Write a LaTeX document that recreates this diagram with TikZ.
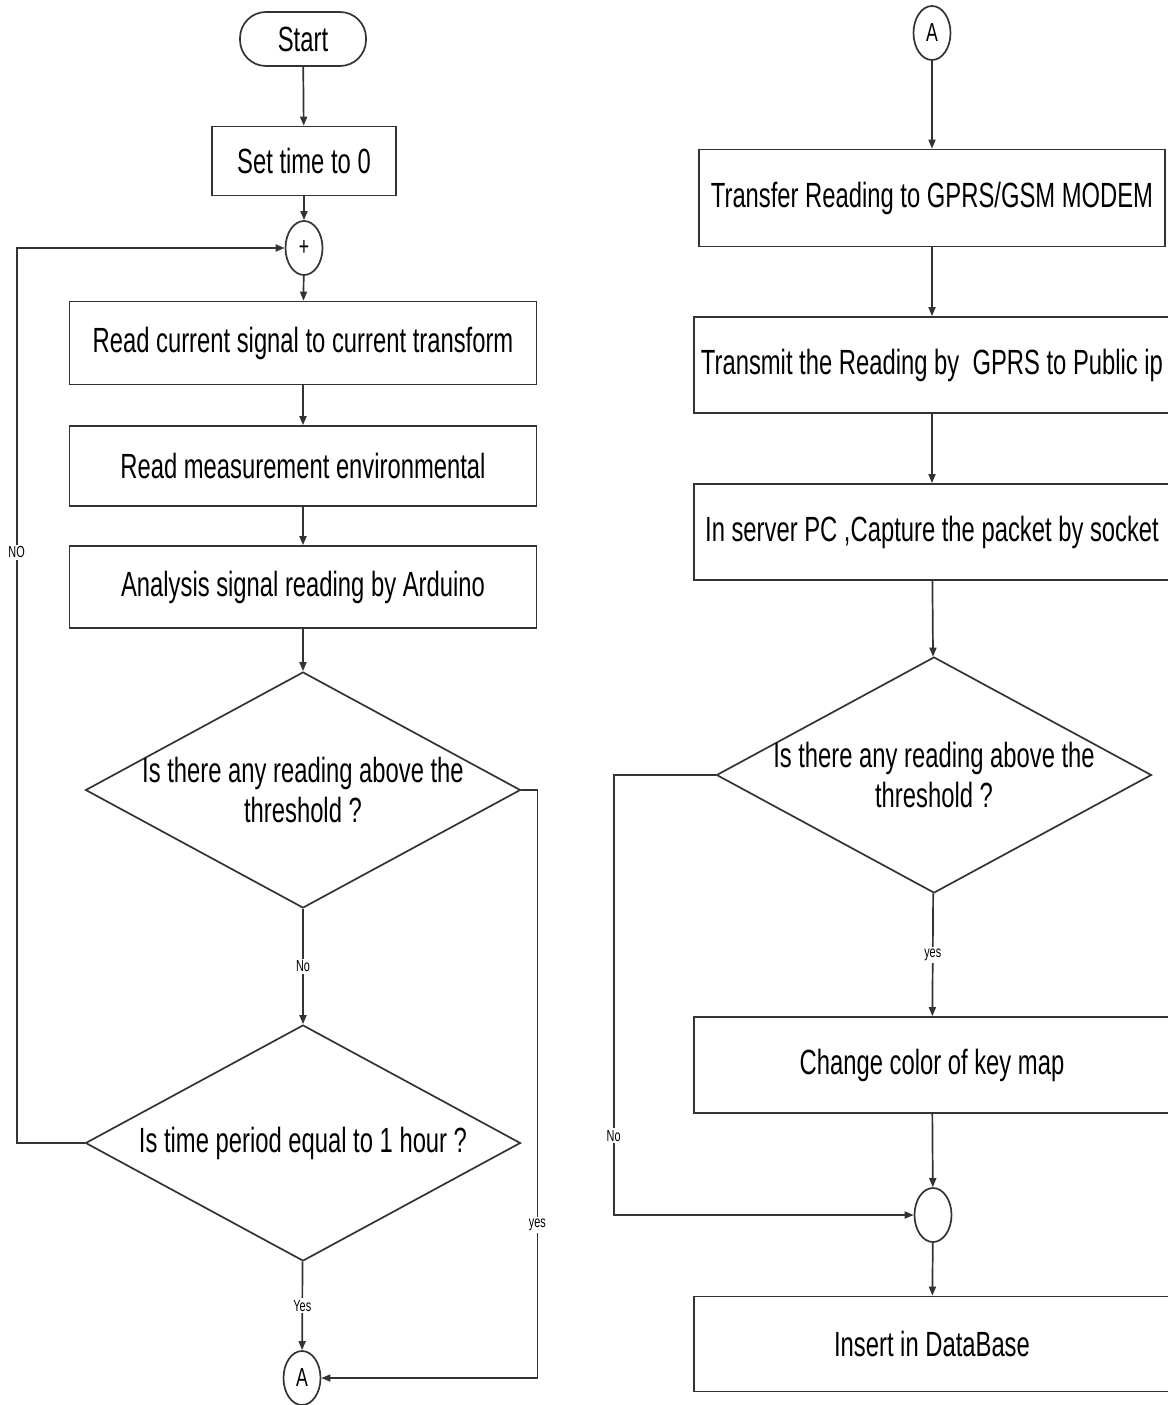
\documentclass[tikz,border=0pt]{standalone}
\usepackage{fontspec}
\setmainfont{Liberation Sans}[FakeStretch=0.68]
\usetikzlibrary{shapes.geometric,arrows.meta}

\tikzset{
  every node/.style={font=\fontsize{35}{40}\selectfont},
  flow/.style={draw=black!80, line width=1.7pt},
  arrow/.style={flow, -{Triangle[length=9pt,width=7pt]}},
  procbox/.style={flow, rectangle, inner sep=0pt, minimum height=82pt},
  startbox/.style={flow, rectangle, rounded corners=26pt, minimum width=126pt, minimum height=54pt, inner sep=0pt},
  decision/.style={flow, diamond, inner sep=0pt, minimum width=435pt, minimum height=236pt},
  joint/.style={flow, ellipse, inner sep=0pt, minimum width=37pt, minimum height=54pt, font=\fontsize{26}{26}\selectfont},
  lbl/.style={fill=white, inner sep=2pt, font=\fontsize{16}{16}\selectfont},
}

\begin{document}
\begin{tikzpicture}[x=1pt, y=-1pt]
\useasboundingbox (0,0) rectangle (1167,1405);

% left column: measurement loop
\node[startbox] (start) at (303,39) {Start};
\node[procbox, minimum width=184pt, minimum height=69pt] (settime) at (304,161) {Set time to 0};
\node[joint] (plus) at (304,248) {+};
\node[procbox, minimum width=467pt, minimum height=83pt] (readcur) at (303,343) {Read current signal to current transform};
\node[procbox, minimum width=467pt, minimum height=80pt] (readenv) at (303,466) {Read measurement environmental};
\node[procbox, minimum width=467pt, minimum height=82pt] (analysis) at (303,587) {Analysis signal reading by Arduino};
\node[decision, label={[align=center]center:Is there any reading above the\\threshold ?}] (thr1) at (303,790) {};
\node[decision, label={center:Is time period equal to 1 hour ?}] (hour) at (303,1143) {};
\node[joint] (connA) at (302,1378) {A};

\draw[arrow] (start) -- (settime);
\draw[arrow] (settime) -- (plus);
\draw[arrow] (plus) -- (readcur);
\draw[arrow] (readcur) -- (readenv);
\draw[arrow] (readenv) -- (analysis);
\draw[arrow] (analysis) -- (thr1);
\draw[arrow] (thr1) -- node[lbl]{No} (hour);
\draw[arrow] (hour) -- node[lbl]{Yes} (connA);
\draw[arrow] (hour.west) -- ++(-68,0) |- node[lbl, pos=0.33]{NO} (plus.west);
\draw[arrow] (thr1.east) -- ++(16,0) |- node[lbl, pos=0.37]{yes} (connA.east);

% right column: transmission and storage
\node[joint] (connB) at (932,33) {A};
\node[procbox, minimum width=466pt, minimum height=97pt] (transfer) at (932,198) {Transfer Reading to GPRS/GSM MODEM};
\node[procbox, minimum width=476pt, minimum height=96pt] (transmit) at (932,365) {Transmit the Reading by\ \ GPRS to Public ip};
\node[procbox, minimum width=476pt, minimum height=96pt] (capture) at (932,532) {In server PC ,Capture the packet by socket};
\node[decision, label={[align=center]center:Is there any reading above the\\threshold ?}] (thr2) at (934,775) {};
\node[procbox, minimum width=476pt, minimum height=96pt] (recolor) at (932,1065) {Change color of key map};
\node[joint] (merge) at (933,1215) {};
\node[procbox, minimum width=476pt, minimum height=95pt] (insert) at (932,1344) {Insert in DataBase};

\draw[arrow] (connB) -- (transfer);
\draw[arrow] (transfer) -- (transmit);
\draw[arrow] (transmit) -- (capture);
\draw[arrow] (capture) -- (thr2);
\draw[arrow] (thr2) -- node[lbl]{yes} (recolor);
\draw[arrow] (recolor) -- (merge);
\draw[arrow] (merge) -- (insert);
\draw[arrow] (thr2.west) -- ++(-102,0) |- node[lbl, pos=0.41]{No} (merge.west);
\end{tikzpicture}
\end{document}
